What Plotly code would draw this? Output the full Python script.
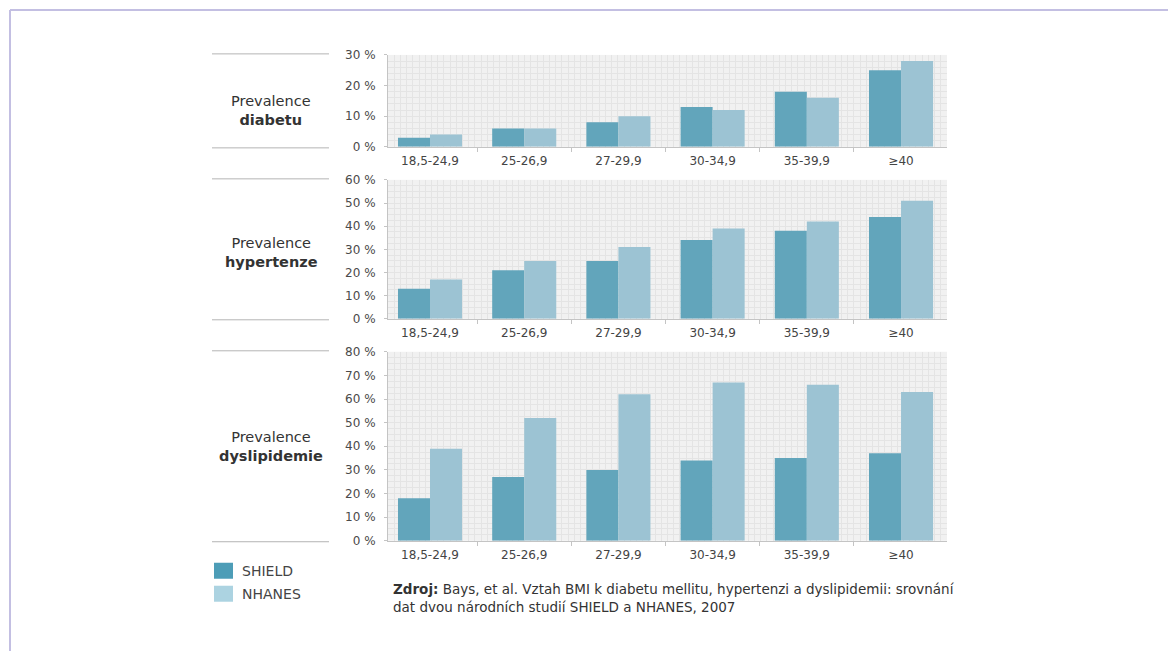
import plotly.graph_objects as go

# BMI categories
categories = ["18,5-24,9", "25-26,9", "27-29,9", "30-34,9", "35-39,9", "≥40"]

# Prevalence (%) by study
diabetes_shield = [3, 6, 8, 13, 18, 25]
diabetes_nhanes = [4, 6, 10, 12, 16, 28]
hypertension_shield = [13, 21, 25, 34, 38, 44]
hypertension_nhanes = [17, 25, 31, 39, 42, 51]
dyslipidemia_shield = [18, 27, 30, 34, 35, 37]
dyslipidemia_nhanes = [39, 52, 62, 67, 66, 63]

panel_titles = [("Prevalence", "diabetu"), ("Prevalence", "hypertenze"), ("Prevalence", "dyslipidemie")]
y_max = [30, 60, 80]
y_minor = [2, 2.5, 2.5]

W, H = 1168, 658
FONT = "DejaVu Sans"
C_SHIELD = "#62a5bb"
C_NHANES = "#9cc3d3"
BG = "#f1f1f1"
GRID = "#e4e4e4"

# vertical page mapping (offset and scale of the rendered page)
Y_OFF, Y_SCALE = 7.1, 0.979


def px_x(x):
    return x / W


def px_y(y):
    return 1 - ((y - Y_OFF) / Y_SCALE) / H


x_dom = [px_x(388), px_x(947)]
# panel pixel extents (top, bottom) and label block centre
panels = [(55, 147), (180, 319), (352, 541)]
label_centres = [111, 253, 447]

series = [
    (diabetes_shield, diabetes_nhanes),
    (hypertension_shield, hypertension_nhanes),
    (dyslipidemia_shield, dyslipidemia_nhanes),
]

fig = go.Figure()
layout = {}
for i, ((top, bot), (s_vals, n_vals)) in enumerate(zip(panels, series)):
    n = i + 1
    xa = "x" if n == 1 else f"x{2*n-1}"
    ya = "y" if n == 1 else f"y{n}"
    xg = f"x{2*n}"
    fig.add_bar(x=categories, y=s_vals, name="SHIELD", marker_color=C_SHIELD,
                marker_line_width=0, xaxis=xa, yaxis=ya, showlegend=False)
    fig.add_bar(x=categories, y=n_vals, name="NHANES", marker_color=C_NHANES,
                marker_line_width=0, xaxis=xa, yaxis=ya, showlegend=False)
    # empty helper trace so the fine vertical grid axis gets drawn
    fig.add_scatter(x=[], y=[], xaxis=xg, yaxis=ya, showlegend=False, hoverinfo="skip")

    layout[f"xaxis{'' if n == 1 else 2*n-1}"] = dict(
        domain=x_dom, anchor=ya, type="category", range=[-0.446, 5.488],
        showline=True, linecolor="#c4c4c4", linewidth=1,
        ticks="outside", tickson="boundaries", ticklen=4, tickcolor="#c4c4c4",
        showgrid=False, tickfont=dict(family=FONT, size=12, color="#444"),
        ticklabelstandoff=3,
    )
    layout[f"xaxis{2*n}"] = dict(
        domain=x_dom, anchor=ya, overlaying="x" if n == 1 else f"x{2*n-1}",
        range=[0, 90], dtick=1, showgrid=True, gridcolor=GRID, gridwidth=1,
        showticklabels=False, ticks="", zeroline=False, showline=False,
    )
    layout[f"yaxis{'' if n == 1 else n}"] = dict(
        domain=[px_y(bot), px_y(top)], anchor=xa, range=[0, y_max[i]], dtick=10,
        ticksuffix=" %", showline=True, linecolor="#c4c4c4", linewidth=1,
        ticks="outside", ticklen=3, tickcolor="#c4c4c4",
        showgrid=True, gridcolor=GRID, zeroline=False,
        minor=dict(dtick=y_minor[i], showgrid=True, gridcolor=GRID),
        tickfont=dict(family=FONT, size=12, color="#4a4a4a"), ticklabelstandoff=6,
    )

shapes = []
annotations = []

# page frame
shapes.append(dict(type="line", xref="paper", yref="paper", x0=px_x(10), x1=1, y0=px_y(10), y1=px_y(10),
                   line=dict(color="#c3bfe2", width=2)))
shapes.append(dict(type="line", xref="paper", yref="paper", x0=px_x(10), x1=px_x(10), y0=px_y(10), y1=0,
                   line=dict(color="#c3bfe2", width=2)))

# panel labels with separator rules
for (top, bot), (t1, t2), yc in zip(panels, panel_titles, label_centres):
    for yy in (top - 1, bot + 1):
        shapes.append(dict(type="line", xref="paper", yref="paper", x0=px_x(212), x1=px_x(329),
                           y0=px_y(yy), y1=px_y(yy), line=dict(color="#b4b4b4", width=1)))
    annotations.append(dict(xref="paper", yref="paper", x=px_x(271), y=px_y(yc),
                            xanchor="center", yanchor="middle",
                            text=f"{t1}<br><b>{t2}</b>", showarrow=False,
                            font=dict(family=FONT, size=14.5, color="#333"), align="center"))

# legend
for label, color, yc in (("SHIELD", "#4d9db7", 571), ("NHANES", "#acd3e1", 594)):
    shapes.append(dict(type="rect", xref="paper", yref="paper", x0=px_x(214), x1=px_x(233),
                       y0=px_y(yc + 8), y1=px_y(yc - 8), fillcolor=color, line=dict(width=0)))
    annotations.append(dict(xref="paper", yref="paper", x=px_x(240), y=px_y(yc),
                            xanchor="left", yanchor="middle",
                            text=label, showarrow=False, font=dict(family=FONT, size=14, color="#444")))

# source note
annotations.append(dict(
    xref="paper", yref="paper", x=px_x(391), y=px_y(598), xanchor="left", yanchor="middle", align="left",
    text="<b>Zdroj:</b> Bays, et al. Vztah BMI k diabetu mellitu, hypertenzi a dyslipidemii: srovnání"
         "<br>dat dvou národních studií SHIELD a NHANES, 2007",
    showarrow=False, font=dict(family=FONT, size=13.5, color="#333")))

fig.update_layout(
    width=W, height=H, margin=dict(l=0, r=0, t=0, b=0),
    paper_bgcolor="white", plot_bgcolor=BG,
    barmode="group", bargap=0.32, bargroupgap=0,
    shapes=shapes, annotations=annotations, showlegend=False,
    **layout,
)

fig.write_html("out.html")
